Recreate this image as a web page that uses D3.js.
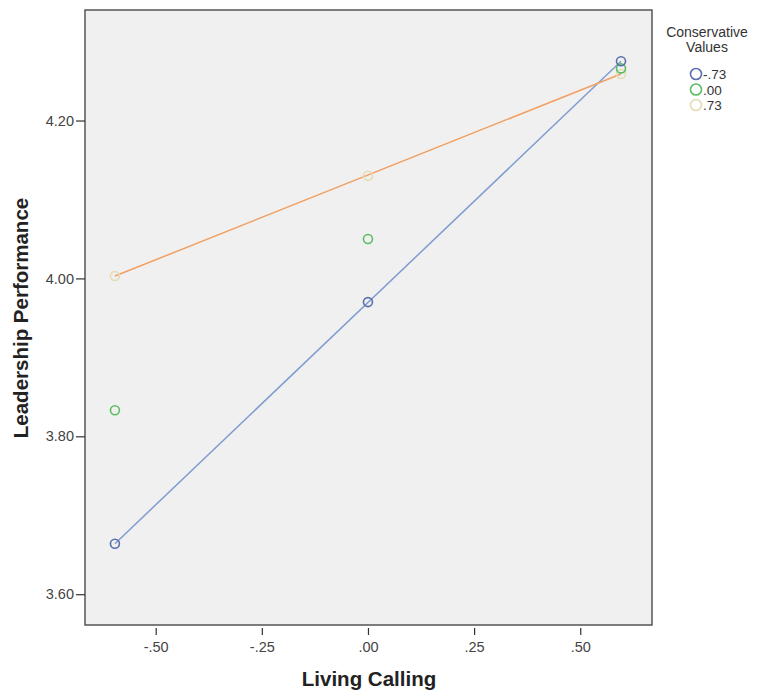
<!DOCTYPE html>
<html><head><meta charset="utf-8">
<script src="https://cdn.jsdelivr.net/npm/d3@7"></script>
<style>body{margin:0;background:#fff;} svg{display:block;}</style>
</head><body>
<svg id="chart" width="767" height="693"></svg>
<script>
const xValues = [-0.596, 0.0, 0.596];
const seriesNames = ["-.73", ".00", ".73"];
const seriesLow = [3.664, 3.970, 4.275];
const seriesMid = [3.833, 4.050, 4.266];
const seriesHigh = [4.003, 4.130, 4.259];
const xTicks = [-0.5, -0.25, 0, 0.25, 0.5];
const xTickLabels = ["-.50", "-.25", ".00", ".25", ".50"];
const yTicks = [3.6, 3.8, 4.0, 4.2];
const yTickLabels = ["3.60", "3.80", "4.00", "4.20"];
const fitLines = [true, false, true];

const markerColors = ["#5b6fae", "#5bbd62", "#e4dcb4"];
const lineColors = ["#7e9cd2", null, "#f2a062"];

const svg = d3.select("#chart");
const L = 85, R = 652, T = 10, B = 625;
const x = d3.scaleLinear().domain([-0.6665, 0.669]).range([L, R]);
const y = d3.scaleLinear().domain([3.561, 4.340]).range([B, T]);
const ff = "Liberation Sans, Arial, sans-serif";

svg.append("rect").attr("x", L).attr("y", T).attr("width", R - L).attr("height", B - T)
  .attr("fill", "#f0f0f0").attr("stroke", "#555").attr("stroke-width", 1.5);

// y axis
const yAxis = d3.axisLeft(y).tickValues(yTicks).tickFormat((d, i) => yTickLabels[i]).tickSize(9).tickPadding(2);
const gy = svg.append("g").attr("transform", `translate(${L},0)`).call(yAxis);
gy.select(".domain").remove();
gy.selectAll("line").attr("stroke", "#333").attr("stroke-width", 1.2);
gy.selectAll("text").attr("font-family", ff).attr("font-size", 14.5).attr("fill", "#444");

// x axis
const xAxis = d3.axisBottom(x).tickValues(xTicks).tickFormat((d, i) => xTickLabels[i]).tickSize(7).tickPadding(7);
const gx = svg.append("g").attr("transform", `translate(0,${B + 3})`).call(xAxis);
gx.select(".domain").remove();
gx.selectAll("line").attr("stroke", "#333").attr("stroke-width", 1.2);
gx.selectAll("text").attr("font-family", ff).attr("font-size", 14.5).attr("fill", "#444");

// axis titles
svg.append("text").attr("x", 369).attr("y", 686).attr("text-anchor", "middle")
  .attr("font-family", ff).attr("font-weight", "bold").attr("font-size", 20.5).attr("fill", "#222")
  .text("Living Calling");
svg.append("text").attr("transform", "translate(28,318) rotate(-90)").attr("text-anchor", "middle")
  .attr("font-family", ff).attr("font-weight", "bold").attr("font-size", 20.5).attr("fill", "#222")
  .text("Leadership Performance");

const series = [seriesLow, seriesMid, seriesHigh];
const line = d3.line().x(d => x(d[0])).y(d => y(d[1]));
series.forEach((vals, i) => {
  if (!fitLines[i]) return;
  const pts = [[xValues[0], vals[0]], [xValues[2], vals[2]]];
  svg.append("path").attr("d", line(pts)).attr("fill", "none").attr("stroke", lineColors[i]).attr("stroke-width", 1.5);
});
[2, 1, 0].forEach(i => {
  svg.selectAll(null).data(xValues.map((xv, j) => [xv, series[i][j]])).enter().append("circle")
    .attr("cx", d => x(d[0])).attr("cy", d => y(d[1])).attr("r", 4.5)
    .attr("fill", "none").attr("stroke", markerColors[i]).attr("stroke-width", 1.6);
});

// legend
svg.append("text").attr("x", 707).attr("y", 37).attr("text-anchor", "middle").attr("font-family", ff).attr("font-size", 14).attr("fill", "#333").text("Conservative");
svg.append("text").attr("x", 707).attr("y", 52).attr("text-anchor", "middle").attr("font-family", ff).attr("font-size", 14).attr("fill", "#333").text("Values");
seriesNames.forEach((n, i) => {
  const yy = 74 + i * 15.5;
  svg.append("circle").attr("cx", 696).attr("cy", yy).attr("r", 5.5).attr("fill", "none").attr("stroke", markerColors[i]).attr("stroke-width", 1.6);
  svg.append("text").attr("x", 703).attr("y", yy + 5).attr("font-family", ff).attr("font-size", 13.5).attr("fill", "#333").text(n);
});
</script>
</body></html>
